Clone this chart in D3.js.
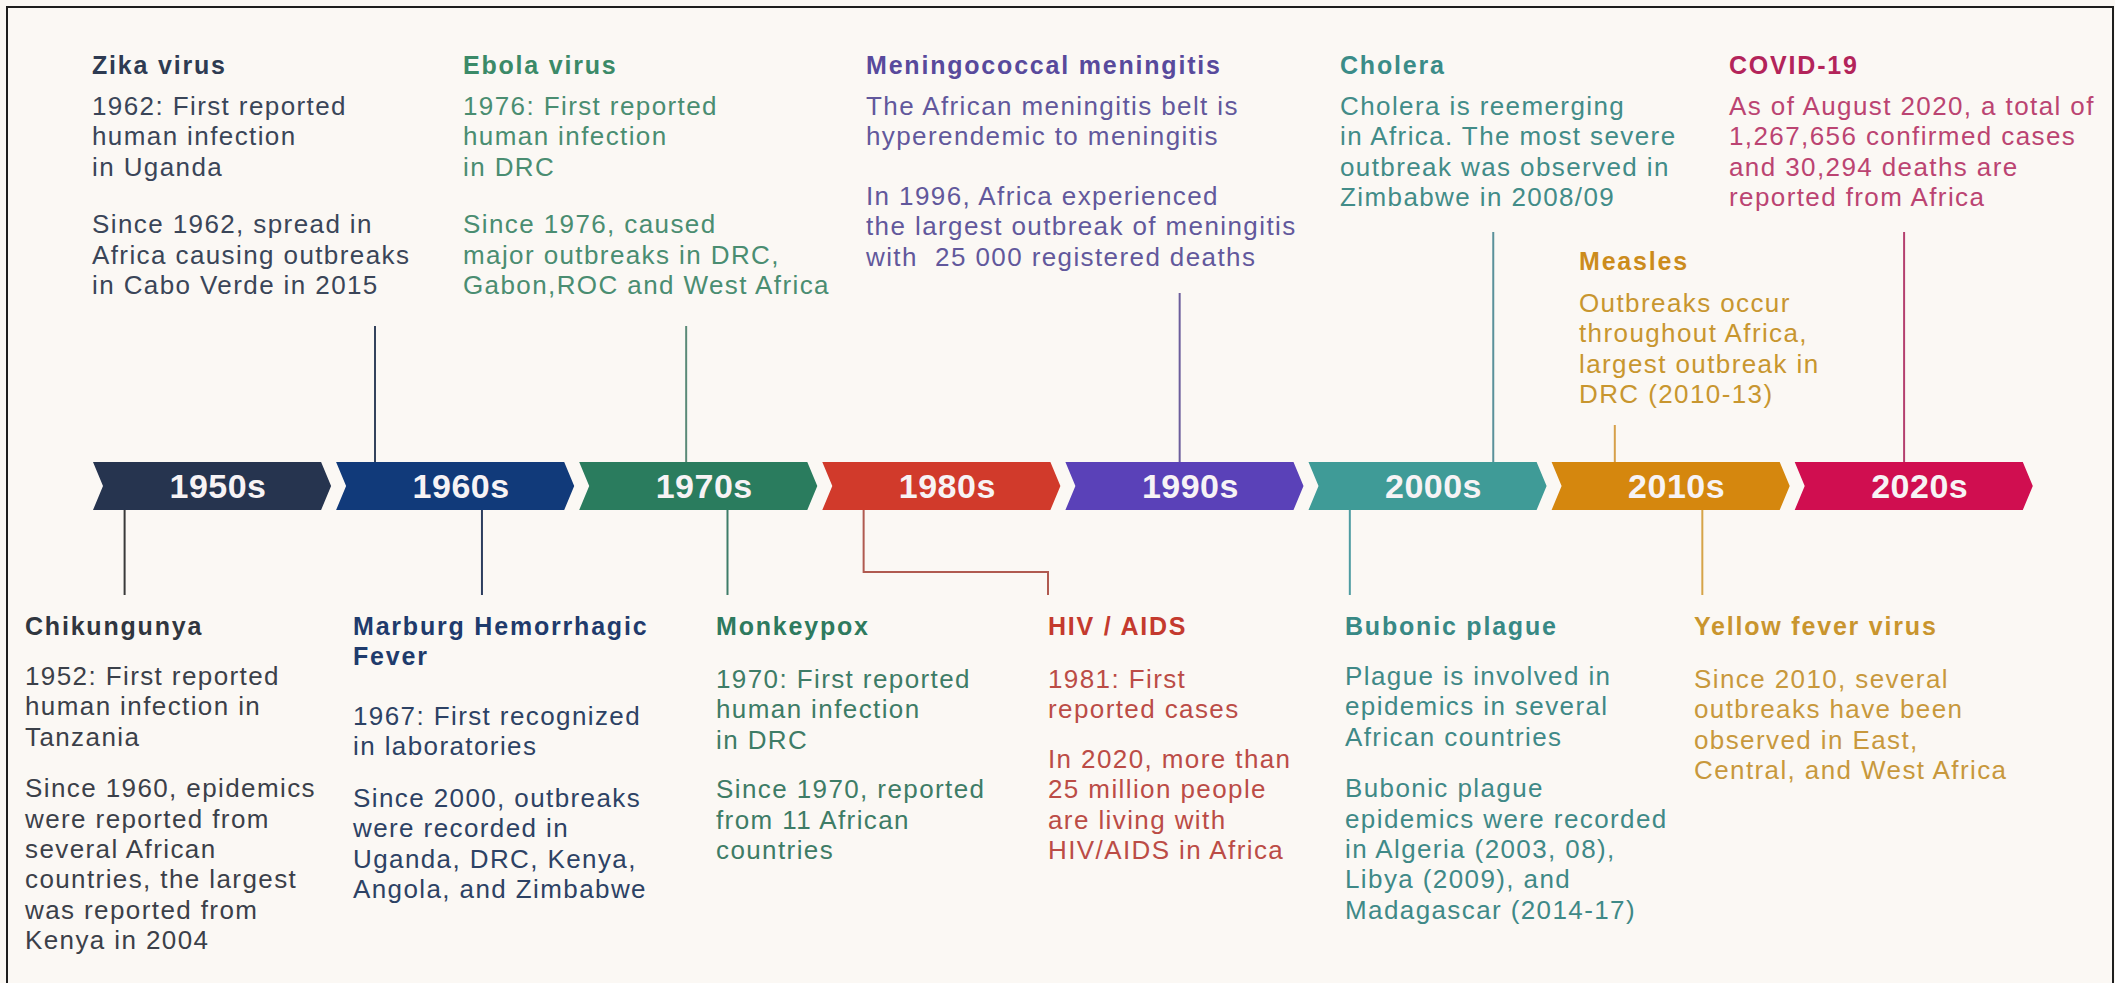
<!DOCTYPE html>
<html>

<head>
    <title>Epidemics in Africa timeline</title>
    <script src="https://d3js.org/d3.v7.min.js"></script>
    <style>
        body {
            margin: 0;
            padding: 0;
            overflow: hidden;
            background: #ffffff;
        }

        svg text {
            font-family: "Liberation Sans", Arial, Helvetica, sans-serif;
        }
    </style>
</head>

<body>
    <script>
        // decades on the arrow band
        var decades = ["1950s", "1960s", "1970s", "1980s", "1990s", "2000s", "2010s", "2020s"];
        var decadeYears = [1950, 1960, 1970, 1980, 1990, 2000, 2010, 2020];

        // events
        var eventNames = ["Zika virus", "Ebola virus", "Meningococcal meningitis", "Cholera", "Measles", "COVID-19",
            "Chikungunya", "Marburg Hemorrhagic Fever", "Monkeypox", "HIV / AIDS", "Bubonic plague", "Yellow fever virus"];
        var eventTitles = [
            ["Zika virus"], ["Ebola virus"], ["Meningococcal meningitis"], ["Cholera"], ["Measles"], ["COVID-19"],
            ["Chikungunya"], ["Marburg Hemorrhagic", "Fever"], ["Monkeypox"], ["HIV / AIDS"], ["Bubonic plague"], ["Yellow fever virus"]
        ];
        var eventSide = ["top", "top", "top", "top", "top", "top", "bottom", "bottom", "bottom", "bottom", "bottom", "bottom"];
        // where the connector meets the band, as a year on the timeline
        var eventMarkYear = [1961.6, 1974.4, 1994.7, 2007.6, 2012.6, 2024.5, 1951.3, 1966.0, 1976.1, 1981.7, 2001.7, 2016.2];
        var eventText = [
            [["1962: First reported", "human infection", "in Uganda"],
             ["Since 1962, spread in", "Africa causing outbreaks", "in Cabo Verde in 2015"]],
            [["1976: First reported", "human infection", "in DRC"],
             ["Since 1976, caused", "major outbreaks in DRC,", "Gabon,ROC and West Africa"]],
            [["The African meningitis belt is", "hyperendemic to meningitis"],
             ["In 1996, Africa experienced", "the largest outbreak of meningitis", "with  25 000 registered deaths"]],
            [["Cholera is reemerging", "in Africa. The most severe", "outbreak was observed in", "Zimbabwe in 2008/09"]],
            [["Outbreaks occur", "throughout Africa,", "largest outbreak in", "DRC (2010-13)"]],
            [["As of August 2020, a total of", "1,267,656 confirmed cases", "and 30,294 deaths are", "reported from Africa"]],
            [["1952: First reported", "human infection in", "Tanzania"],
             ["Since 1960, epidemics", "were reported from", "several African", "countries, the largest", "was reported from", "Kenya in 2004"]],
            [["1967: First recognized", "in laboratories"],
             ["Since 2000, outbreaks", "were recorded in", "Uganda, DRC, Kenya,", "Angola, and Zimbabwe"]],
            [["1970: First reported", "human infection", "in DRC"],
             ["Since 1970, reported", "from 11 African", "countries"]],
            [["1981: First", "reported cases"],
             ["In 2020, more than", "25 million people", "are living with", "HIV/AIDS in Africa"]],
            [["Plague is involved in", "epidemics in several", "African countries"],
             ["Bubonic plague", "epidemics were recorded", "in Algeria (2003, 08),", "Libya (2009), and", "Madagascar (2014-17)"]],
            [["Since 2010, several", "outbreaks have been", "observed in East,", "Central, and West Africa"]]
        ];

        // layout of the text blocks (kept apart from the data)
        var layout = [
            { x: 92, ty: 74, by: 115, gap: 27, lineEnd: 326 },
            { x: 463, ty: 74, by: 115, gap: 27, lineEnd: 326 },
            { x: 866, ty: 74, by: 115, gap: 29, lineEnd: 293 },
            { x: 1340, ty: 74, by: 115, gap: 0, lineEnd: 232 },
            { x: 1579, ty: 270, by: 312, gap: 0, lineEnd: 425 },
            { x: 1729, ty: 74, by: 115, gap: 0, lineEnd: 232 },
            { x: 25, ty: 635, by: 685, gap: 21, lineEnd: 595 },
            { x: 353, ty: 635, by: 725, gap: 21, lineEnd: 595 },
            { x: 716, ty: 635, by: 688, gap: 19, lineEnd: 595 },
            { x: 1048, ty: 635, by: 688, gap: 19, lineEnd: 595, elbow: 572 },
            { x: 1345, ty: 635, by: 685, gap: 21, lineEnd: 595 },
            { x: 1694, ty: 635, by: 688, gap: 0, lineEnd: 595 }
        ];

        var width = 2115,
            height = 983;
        var barTop = 462,
            barBottom = 510,
            barMid = (barTop + barBottom) / 2,
            lineH = 30.4;

        var decadeColor = d3.scaleOrdinal()
            .domain(decades)
            .range(["#26344f", "#113a7a", "#2a7c5e", "#d13a2b", "#5a41b8", "#3f9b97", "#d5870e", "#d00e50"]);
        var titleColor = d3.scaleOrdinal()
            .domain(eventNames)
            .range(["#2e3b52", "#3b8a68", "#584a9c", "#3b8c88", "#cc8c1c", "#b3245a",
                "#30363f", "#1f3b6c", "#2e7a5e", "#c43a2e", "#388985", "#c9952e"]);
        var bodyColor = d3.scaleOrdinal()
            .domain(eventNames)
            .range(["#3a4558", "#4a8d71", "#62589c", "#428c88", "#c8962f", "#bb4472",
                "#3b4049", "#2d4264", "#3e7c66", "#bb4c46", "#3f8987", "#c8983c"]);
        var linkColor = d3.scaleOrdinal()
            .domain(eventNames)
            .range(["#34435c", "#5a8a78", "#6c5e9c", "#5a919a", "#d6a04a", "#b4406e",
                "#3a3a3a", "#2c3d5e", "#3e7c68", "#b05a50", "#4e9ca2", "#d6a448"]);

        var x = d3.scaleLinear()
            .domain([1950, 2030])
            .range([93, 93 + 8 * 243.1]);

        var svg = d3.select("body").append("svg")
            .attr("width", width)
            .attr("height", height);

        svg.append("rect")
            .attr("width", width)
            .attr("height", height)
            .attr("fill", "#fbf8f4");

        svg.append("rect")
            .attr("x", 7)
            .attr("y", 7)
            .attr("width", 2106)
            .attr("height", 1000)
            .attr("fill", "none")
            .attr("stroke", "#1e1e1e")
            .attr("stroke-width", 2);

        // chevron arrows
        var notch = 10,
            gap = 15;

        function chevron(year) {
            var x0 = x(year),
                w = x(year + 10) - x0 - gap;
            return "M" + x0 + "," + barTop +
                "L" + (x0 + w) + "," + barTop +
                "L" + (x0 + w + notch) + "," + barMid +
                "L" + (x0 + w) + "," + barBottom +
                "L" + x0 + "," + barBottom +
                "L" + (x0 + notch) + "," + barMid + "Z";
        }

        var band = svg.append("g");
        band.selectAll("path")
            .data(decades)
            .join("path")
            .attr("d", (d, i) => chevron(decadeYears[i]))
            .attr("fill", d => decadeColor(d));

        band.selectAll("text")
            .data(decades)
            .join("text")
            .attr("x", (d, i) => x(decadeYears[i]) + 125)
            .attr("y", barMid + 12)
            .attr("text-anchor", "middle")
            .attr("font-size", 34)
            .attr("font-weight", "bold")
            .attr("letter-spacing", 0.5)
            .attr("fill", "#f7f3f5")
            .text(d => d);

        // connectors
        var line = d3.line();
        var links = svg.append("g");
        eventNames.forEach((name, i) => {
            var lx = x(eventMarkYear[i]),
                L = layout[i],
                pts;
            if (eventSide[i] == "top") {
                pts = [[lx, L.lineEnd], [lx, barTop]];
            } else if (L.elbow) {
                pts = [[lx, barBottom], [lx, L.elbow], [L.x, L.elbow], [L.x, L.lineEnd]];
            } else {
                pts = [[lx, barBottom], [lx, L.lineEnd]];
            }
            links.append("path")
                .attr("d", line(pts))
                .attr("fill", "none")
                .attr("stroke", linkColor(name))
                .attr("stroke-width", 2);
        });

        // text blocks
        eventNames.forEach((name, i) => {
            var L = layout[i];
            var g = svg.append("g");
            g.selectAll("text.title")
                .data(eventTitles[i])
                .join("text")
                .attr("class", "title")
                .attr("x", L.x)
                .attr("y", (d, j) => L.ty + j * 30)
                .attr("font-size", 25)
                .attr("font-weight", "bold")
                .attr("letter-spacing", 1.8)
                .attr("fill", titleColor(name))
                .text(d => d);

            var rows = [];
            var n = 0;
            eventText[i].forEach((para, p) => {
                para.forEach(t => {
                    rows.push({ t: t, y: L.by + n * lineH + p * L.gap });
                    n++;
                });
            });
            g.selectAll("text.body")
                .data(rows)
                .join("text")
                .attr("class", "body")
                .attr("x", L.x)
                .attr("y", d => d.y)
                .attr("font-size", 26)
                .attr("letter-spacing", 1.4)
                .attr("xml:space", "preserve")
                .style("white-space", "pre")
                .attr("fill", bodyColor(name))
                .text(d => d.t);
        });
    </script>
</body>

</html>
